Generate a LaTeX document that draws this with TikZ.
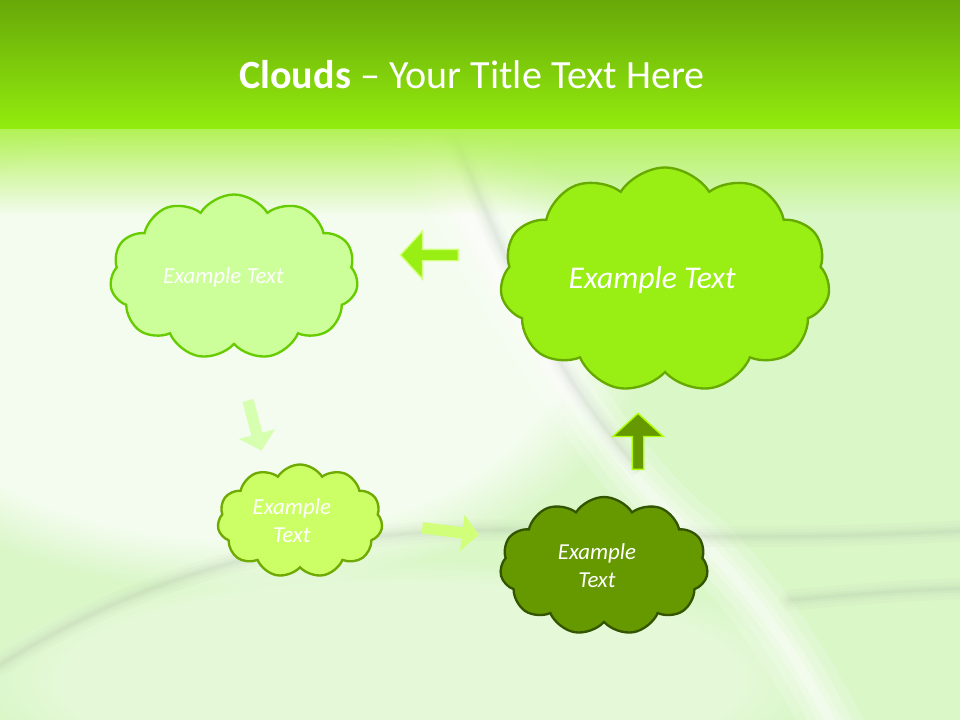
\documentclass[tikz,border=0pt]{standalone}
\usepackage{fontspec}
\setmainfont{Carlito}
\usepackage{tikz}
\usetikzlibrary{shapes.symbols, shapes.arrows, positioning, fadings}
\definecolor{topdark}{RGB}{104,168,8}
\definecolor{toplime}{RGB}{146,236,14}
\definecolor{bgpale}{RGB}{238,254,228}
\definecolor{bglow}{RGB}{218,247,200}
\definecolor{streak}{RGB}{150,160,150}
\definecolor{paleleaf}{RGB}{204,255,153}
\definecolor{paleedge}{RGB}{102,204,0}
\definecolor{limeleaf}{RGB}{153,238,20}
\definecolor{limeedge}{RGB}{102,170,0}
\definecolor{yellowleaf}{RGB}{204,255,102}
\definecolor{yellowedge}{RGB}{110,170,0}
\definecolor{darkleaf}{RGB}{102,153,0}
\definecolor{darkedge}{RGB}{51,85,0}
\definecolor{glowedge}{RGB}{170,255,0}
\tikzset{
  cloudnode/.style={cloud, cloud puffs=11, cloud puff arc=115, cloud ignores aspect,
    line width=2pt, align=center, text=white, inner sep=0pt},
  arrowshape/.style={single arrow, single arrow tip angle=95, inner ysep=5*0.03cm,
    inner xsep=0pt, line width=1.2pt, rotate=#1},
  titletext/.style={text=white, font=\fontsize{34.2}{40}\selectfont}
}
\begin{document}
\begin{tikzpicture}[x=0.03cm, y=-0.03cm]
  \useasboundingbox (0,0) rectangle (960,720);
  % background
  \fill[bglow] (0,100) rectangle (960,720);
  \fill[white, opacity=0.7, path fading=circle with fuzzy edge 20 percent] (230,330) ellipse (420 and 260);
  \fill[white, opacity=0.3, path fading=circle with fuzzy edge 20 percent] (400,680) ellipse (420 and 120);
  \foreach \w/\o in {60/0.18, 40/0.2, 22/0.25, 10/0.3} {
    \draw[white, line width=\w*0.85pt, opacity=\o] (400,90) .. controls (520,330) and (620,480) .. (700,540)
      .. controls (760,600) and (800,660) .. (840,740);
  }
  \foreach \w/\o in {18/0.035, 12/0.045, 7/0.06, 3/0.07} {
    \draw[streak, line width=\w pt, opacity=\o, line cap=round] (0,665) .. controls (120,590) and (260,535) .. (480,530)
      .. controls (600,530) and (700,545) .. (980,530);
    \draw[streak, line width=\w pt, opacity=\o, line cap=round] (790,600) .. controls (850,595) and (900,590) .. (980,588);
    \draw[streak, line width=\w pt, opacity=\o] (440,100) .. controls (520,300) and (560,380) .. (640,470);
  }
  \fill[toplime!70!white, path fading=south] (0,128) rectangle (960,215);
  \shade[top color=topdark, bottom color=toplime] (0,0) rectangle (960,128);

  % title
  \node[titletext] (title) at (472,75) {\textbf{Clouds} -- Your Title Text Here};

  % clouds
  \node[cloudnode, draw=paleedge, fill=paleleaf, minimum width=248*0.03cm, minimum height=165*0.03cm,
    font=\fontsize{19.5}{24}\itshape] (cloudA) at (234,277) {Example Text\hspace*{18pt}};
  \node[cloudnode, draw=limeedge, fill=limeleaf, minimum width=330*0.03cm, minimum height=225*0.03cm,
    font=\fontsize{27}{32}\itshape] (cloudB) at (665,280) {Example Text\hspace*{22pt}};
  \node[cloudnode, draw=yellowedge, fill=yellowleaf, minimum width=165*0.03cm, minimum height=113*0.03cm,
    font=\fontsize{19.5}{24}\itshape] (cloudC) at (300,521) {Example\hspace*{14pt}\\Text\hspace*{14pt}};
  \node[cloudnode, draw=darkedge, fill=darkleaf, minimum width=208*0.03cm, minimum height=138*0.03cm,
    font=\fontsize{19.5}{24}\itshape] (cloudD) at (604,566) {Example\hspace*{12pt}\\Text\hspace*{12pt}};

  % arrows
  \node[arrowshape=180, draw=glowedge!50!white, fill=limeleaf, minimum height=58*0.03cm,
    single arrow head extend=18.5*0.03cm] (arrowAB) at (432,255) {};
  \node[arrowshape=-75, draw=none, fill=paleleaf!70!bgpale, minimum height=52*0.03cm,
    single arrow head extend=13*0.03cm] (arrowAC) at (254,423) {};
  \node[arrowshape=-7, draw=none, fill=yellowleaf!85!bgpale, minimum height=57*0.03cm,
    single arrow head extend=12.5*0.03cm] (arrowCD) at (448,531) {};
  \node[arrowshape=90, draw=glowedge, fill=darkleaf, minimum height=56*0.03cm,
    single arrow head extend=19.5*0.03cm] (arrowDB) at (638,444) {};
\end{tikzpicture}
\end{document}
